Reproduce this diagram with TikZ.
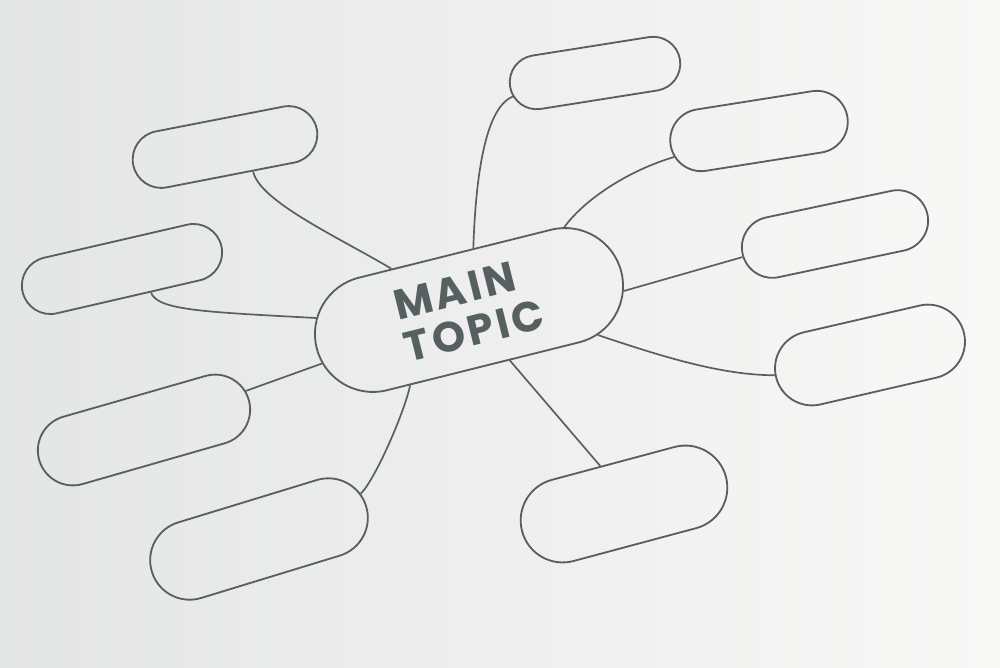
\documentclass[tikz,border=0pt]{standalone}
\usepackage{fontspec}
\newfontfamily\topicfont[LetterSpace=8]{Poppins}
\usetikzlibrary{shapes.misc}
\definecolor{ink}{HTML}{566060}
\definecolor{paperL}{HTML}{E4E5E5}
\definecolor{paperR}{HTML}{F8F8F7}

\begin{document}
\begin{tikzpicture}[x=0.025cm, y=-0.025cm,
sub/.style={rounded rectangle, draw=ink, line width=1.3pt, inner sep=0pt},
topic/.style={sub, text=ink, font=\topicfont\bfseries\fontsize{30}{31}\selectfont, align=left},
link/.style={draw=ink, line width=1.2pt}]
\shade[left color=paperL, right color=paperR] (0,0) rectangle (1000,667);
\useasboundingbox (0,0) rectangle (1000,667);

\node[topic, rotate=14, minimum width=314*0.025cm, minimum height=116*0.025cm] (main) at (469,310) {MAIN\\TOPIC};

\foreach \n/\x/\y/\r/\w/\h in {b1/225/147/11/187/57, b2/122/269/13/204/57,
    b3/144/430/16/218/70, b4/259/539/17/224/79, b5/595/73/9/172/54,
    b6/759/131/9/179/62, b7/835/234/12/189/61, b8/870/355/13/193/74,
    b9/624/504/15/211/84}
{
    \node[sub, rotate=\r, minimum width=\w*0.025cm, minimum height=\h*0.025cm] (\n) at (\x,\y) {};
}

\draw[link] (b1.-52) .. controls +(6,30) and +(-50,-30) .. (main.138);
\draw[link] (b2.-52) .. controls +(6,18) and +(-110,-6) .. (main.169);
\draw[link] (b3.5) -- (main.-174);
\draw[link] (b4.7) .. controls +(15,-15) and +(-5,25) .. (main.-142);
\draw[link] (b5.-173) .. controls +(-30,12) and +(2,-60) .. (main.72);
\draw[link] (b6.-172) .. controls +(-50,15) and +(18,-25) .. (main.27);
\draw[link] (b7.-178) -- (main.-7);
\draw[link] (main.-25) .. controls +(60,20) and +(-55,0) .. (b8.179);
\draw[link] (main.-65) -- (b9.107);
\end{tikzpicture}
\end{document}
